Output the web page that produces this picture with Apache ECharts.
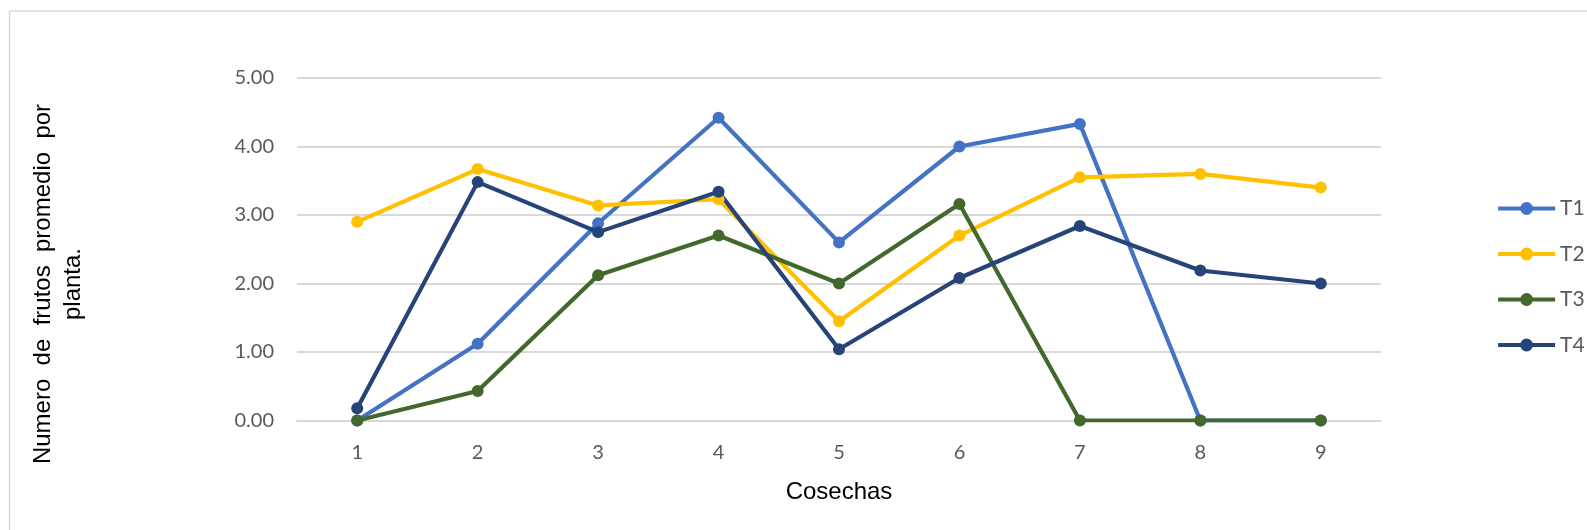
<!DOCTYPE html>
<html>
<head>
<meta charset="utf-8">
<script src="https://cdn.jsdelivr.net/npm/echarts@6/dist/echarts.min.js"></script>
<style>
  html, body { margin: 0; padding: 0; background: #fff; }
  #chart { width: 1587px; height: 530px; }
</style>
</head>
<body>
<div id="chart"></div>
<script>
const cosechas = ["1", "2", "3", "4", "5", "6", "7", "8", "9"];
const t1 = [0, 1.12, 2.88, 4.42, 2.60, 4.00, 4.33, 0, 0];
const t2 = [2.90, 3.67, 3.14, 3.23, 1.45, 2.70, 3.55, 3.60, 3.40];
const t3 = [0, 0.43, 2.12, 2.70, 2.00, 3.16, 0, 0, 0];
const t4 = [0.18, 3.48, 2.75, 3.34, 1.04, 2.08, 2.84, 2.19, 2.00];
const seriesNames = ["T1", "T2", "T3", "T4"];
const colors = ["#4472C4", "#FFC000", "#43682B", "#264478"];

const tickFont = "Lato, 'Open Sans', sans-serif";
const titleFont = "'Liberation Sans', Arial, sans-serif";

const chart = echarts.init(document.getElementById("chart"), null, { renderer: "canvas" });

const makeLine = (name, data, color) => ({
  name,
  type: "line",
  data,
  symbol: "circle",
  symbolSize: 12,
  showSymbol: true,
  lineStyle: { width: 4.2, color },
  itemStyle: { color },
});

chart.setOption({
  animation: false,
  backgroundColor: "#fff",
  color: colors,
  grid: { left: 297, right: 206, top: 78, bottom: 109.5 },
  legend: {
    orient: "vertical",
    left: 1491,
    top: 193,
    itemWidth: 57,
    itemHeight: 16,
    itemGap: 24.5,
    lineStyle: { width: 4.2 },
    textStyle: { fontFamily: tickFont, fontSize: 21, color: "#595959" },
    data: seriesNames,
  },
  xAxis: {
    type: "category",
    data: cosechas,
    boundaryGap: true,
    axisLine: { lineStyle: { color: "#d9d9d9", width: 2 } },
    axisTick: { show: false },
    axisLabel: { fontFamily: tickFont, fontSize: 20, color: "#595959", margin: 22 },
  },
  yAxis: {
    type: "value",
    min: 0,
    max: 5,
    interval: 1,
    axisLine: { show: false },
    axisTick: { show: false },
    splitLine: { lineStyle: { color: "#d9d9d9", width: 2 } },
    axisLabel: {
      fontFamily: tickFont,
      fontSize: 20,
      color: "#595959",
      margin: 23,
      formatter: (v) => v.toFixed(2),
    },
  },
  graphic: [
    {
      type: "rect",
      shape: { x: 9.5, y: 11, width: 1620, height: 600 },
      style: { fill: "none", stroke: "#d9d9d9", lineWidth: 1.5 },
      silent: true,
    },
    {
      type: "text",
      x: 839,
      y: 492,
      style: {
        text: "Cosechas",
        fontFamily: titleFont,
        fontSize: 24,
        fill: "#000",
        align: "center",
        verticalAlign: "middle",
      },
    },
    {
      type: "text",
      x: 58,
      y: 284,
      rotation: Math.PI / 2,
      style: {
        text: "Numero  de  frutos  promedio  por\nplanta.",
        fontFamily: titleFont,
        fontSize: 24,
        lineHeight: 30,
        fill: "#000",
        align: "center",
        verticalAlign: "middle",
      },
    },
  ],
  series: [
    makeLine("T1", t1, colors[0]),
    makeLine("T2", t2, colors[1]),
    makeLine("T3", t3, colors[2]),
    makeLine("T4", t4, colors[3]),
  ],
});
</script>
</body>
</html>
